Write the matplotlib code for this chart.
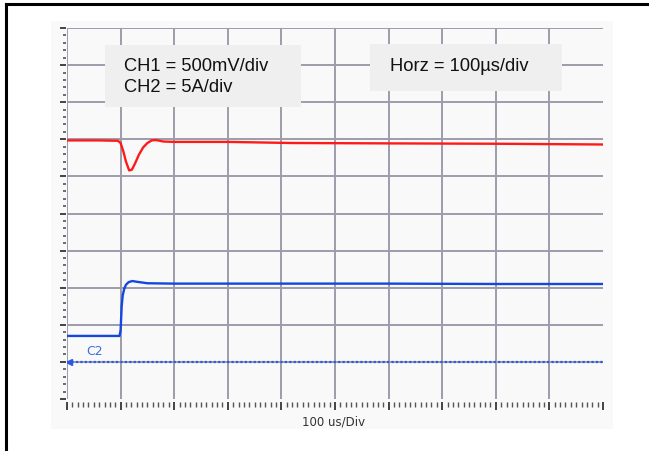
import matplotlib
matplotlib.use("Agg")
import matplotlib.pyplot as plt
from matplotlib.patches import Rectangle
from matplotlib.lines import Line2D
from matplotlib.ticker import MultipleLocator

# ---- data (time in us, amplitude in divisions) ----
ch1_time = [0, 60, 95, 100, 105, 110, 116, 121, 127, 134, 142, 150, 158, 166, 180, 200, 300, 420, 600, 800, 1000]
ch1_div = [6.97, 6.97, 6.96, 6.9, 6.68, 6.4, 6.16, 6.18, 6.35, 6.58, 6.78, 6.9, 6.97, 6.98, 6.94, 6.93, 6.93, 6.9, 6.89, 6.88, 6.86]
ch2_time = [0, 98, 100, 102, 104, 107, 110, 115, 122, 130, 150, 200, 400, 600, 800, 1000]
ch2_div = [1.7, 1.7, 1.85, 2.5, 2.8, 2.98, 3.08, 3.15, 3.18, 3.16, 3.12, 3.11, 3.11, 3.11, 3.1, 3.1]
ch2_ref_div = 1.0
ch2_label = "C2"
x_label = "100 us/Div"
box1_lines = ["CH1 = 500mV/div", "CH2 = 5A/div"]
box2_text = "Horz = 100\u00b5s/div"

W, H = 649, 452
fig = plt.figure(figsize=(W / 100, H / 100), dpi=100)
fig.patch.set_facecolor("white")

def fx(px):
    return px / W

def fy(py):
    return 1 - py / H

# outer border (top and left only visible)
fig.add_artist(Line2D([fx(6), fx(W)], [fy(5), fy(5)], color="black", lw=2.2, transform=fig.transFigure))
fig.add_artist(Line2D([fx(6), fx(6)], [fy(5), fy(H)], color="black", lw=2.2, transform=fig.transFigure))

# light gray screenshot background
fig.add_artist(Rectangle((fx(51), fy(430)), fx(613) - fx(51), fy(22) - fy(430),
                         transform=fig.transFigure, facecolor="#f9f9f9", edgecolor="none", zorder=0))

ax = fig.add_axes([fx(67), fy(400), fx(603) - fx(67), fy(29) - fy(400)])
ax.set_facecolor("none")
ax.set_xlim(0, 1000)
ax.set_ylim(0, 10)
for s in ax.spines.values():
    s.set_visible(False)

grid_c = "#9c9cab"
for i in range(10):
    ax.axvline(i * 100, color=grid_c, lw=1.4, zorder=1)
for j in range(1, 11):
    ax.axhline(j, color=grid_c, lw=1.4, zorder=1)

# ticks
ax.xaxis.set_major_locator(MultipleLocator(100))
ax.xaxis.set_minor_locator(MultipleLocator(10))
ax.yaxis.set_major_locator(MultipleLocator(1))
ax.yaxis.set_minor_locator(MultipleLocator(0.2))
ax.spines["bottom"].set_position(("outward", 2))
ax.spines["left"].set_position(("outward", 1))
ax.tick_params(axis="x", which="major", direction="out", length=6, width=1.4, color="#444444", labelbottom=False)
ax.tick_params(axis="x", which="minor", direction="out", length=3.5, width=1.0, color="#555555")
ax.tick_params(axis="y", which="major", direction="out", length=4, width=1.4, color="#444444", labelleft=False)
ax.tick_params(axis="y", which="minor", direction="out", length=2.5, width=1.2, color="#555555")

# traces
ax.plot(ch1_time, ch1_div, color="#ff1a1a", lw=1.7, zorder=3)
ax.plot(ch2_time, ch2_div, color="#1446e0", lw=1.7, zorder=3)
ax.axhline(ch2_ref_div, color="#2858e8", lw=1.6, ls=(0, (1, 1)), zorder=3)
ax.plot([3], [ch2_ref_div], marker="<", color="#2858e8", ms=4, zorder=4)
ax.text(36, ch2_ref_div + 0.12, ch2_label, color="#3a6ee6", fontsize=9, family="DejaVu Sans", va="bottom", ha="left")

# x label
fig.text(fx(334), fy(422), x_label, color="#333333", fontsize=8.5, family="DejaVu Sans", ha="center", va="center")

# annotation boxes
fig.add_artist(Rectangle((fx(105), fy(108)), fx(301) - fx(105), fy(46) - fy(108),
                         transform=fig.transFigure, facecolor="#efefef", edgecolor="none", zorder=5))
fig.add_artist(Rectangle((fx(370), fy(92)), fx(562) - fx(370), fy(45) - fy(92),
                         transform=fig.transFigure, facecolor="#efefef", edgecolor="none", zorder=5))
fig.text(fx(124), fy(67), box1_lines[0], fontsize=13.2, family="Liberation Sans", color="#111111", va="center", ha="left", zorder=6)
fig.text(fx(124), fy(88), box1_lines[1], fontsize=13.2, family="Liberation Sans", color="#111111", va="center", ha="left", zorder=6)
fig.text(fx(390), fy(67), box2_text, fontsize=13.2, family="Liberation Sans", color="#111111", va="center", ha="left", zorder=6)

fig.savefig("out.png", dpi=100, facecolor="white")
